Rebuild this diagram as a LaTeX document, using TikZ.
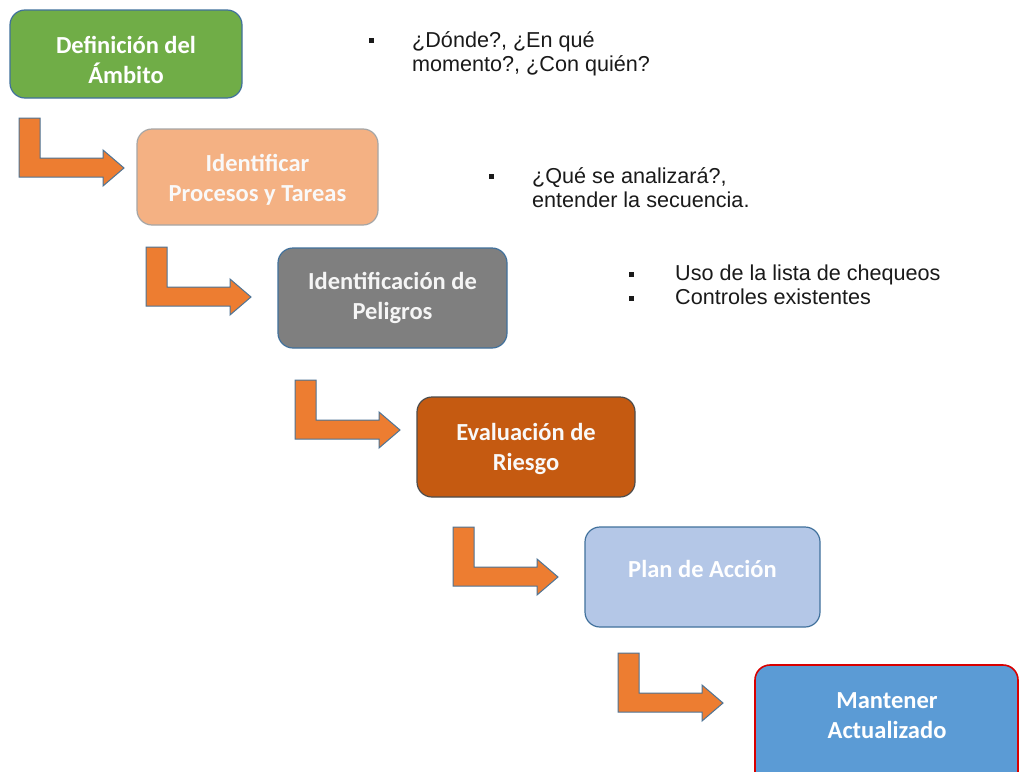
\documentclass[tikz,border=0pt]{standalone}
\usepackage{fontspec}
\setmainfont{Liberation Sans}
\newfontfamily\boxfont{Carlito}
\definecolor{cgreen}{HTML}{70AD47}
\definecolor{cpeach}{HTML}{F4B183}
\definecolor{cgrey}{HTML}{7F7F7F}
\definecolor{cbrown}{HTML}{C55A11}
\definecolor{clblue}{HTML}{B4C7E7}
\definecolor{cblue}{HTML}{5B9BD5}
\definecolor{cborder}{HTML}{41719C}
\definecolor{corange}{HTML}{ED7D31}
\definecolor{ctext}{HTML}{1A1A1A}
\tikzset{
  stagebox/.style={rectangle, rounded corners=15pt, line width=1.2pt, draw=cborder, inner sep=0pt},
  stagetext/.style={text=white, font=\boxfont\bfseries\fontsize{24.5}{30}\selectfont, align=center, inner sep=0pt},
  sidetext/.style={text=ctext, font=\fontsize{21.6}{24.5}\selectfont, align=left, anchor=base west, inner sep=0pt},
  bulletsq/.style={fill=ctext, minimum width=5pt, minimum height=5pt, inner sep=0pt, anchor=center},
  bentarrow/.style={fill=corange, draw=cborder!80!gray, line width=1pt, line join=miter}
}
\newcommand{\bentarr}[1]{%
  \draw[bentarrow] (#1) -- ++(21,0) -- ++(0,40) -- ++(63,0) -- ++(0,-8)
    -- ++(21,18) -- ++(-21,18) -- ++(0,-9) -- ++(-84,0) -- cycle;}
\begin{document}
\begin{tikzpicture}[x=1pt,y=-1pt]
\useasboundingbox (0,0) rectangle (1019,771);
\clip (0,0) rectangle (1019,771);
\fill[white] (0,0) rectangle (1019,771);
% boxes
\node[stagebox, fill=cgreen, minimum width=232pt, minimum height=88pt] (b1) at (126,54) {};
\node[stagebox, fill=cpeach, draw=gray!70, minimum width=241pt, minimum height=96pt] (b2) at (257.5,177) {};
\node[stagebox, fill=cgrey, minimum width=229pt, minimum height=100pt] (b3) at (392.5,298) {};
\node[stagebox, fill=cbrown, draw=gray!60!black, minimum width=218pt, minimum height=100pt] (b4) at (526,447) {};
\node[stagebox, fill=clblue, minimum width=235pt, minimum height=100pt] (b5) at (702.5,577) {};
\node[stagebox, fill=cblue, draw=red!85!black, line width=1.6pt, minimum width=263pt, minimum height=140pt] (b6) at (886.5,735) {};
% box texts
\node[stagetext] (t1) at (126,60) {Definición del\\Ámbito};
\node[stagetext, text=white!95!gray] (t2) at (257.5,180) {Identificar\\Procesos y Tareas};
\node[stagetext, text=white!92!gray] (t3) at (392.5,298) {Identificación de\\Peligros};
\node[stagetext, text=white!95!gray] (t4) at (526,449) {Evaluación de\\Riesgo};
\node[stagetext] (t5) at (702.5,569) {Plan de Acción};
\node[stagetext] (t6) at (887,716) {Mantener\\Actualizado};
% arrows
\coordinate (a1) at (19,118);
\coordinate (a2) at (146,247);
\coordinate (a3) at (295,380);
\coordinate (a4) at (453,527);
\coordinate (a5) at (618,653);
\bentarr{a1}
\bentarr{a2}
\bentarr{a3}
\bentarr{a4}
\bentarr{a5}
% side notes
\node[bulletsq] (q1) at (371,40) {};
\node[sidetext] (s1) at (412,71.5) {¿Dónde?, ¿En qué\\momento?, ¿Con quién?};
\node[bulletsq] (q2) at (491,176) {};
\node[sidetext] (s2) at (532,207.5) {¿Qué se analizará?,\\entender la secuencia.};
\node[bulletsq] (q3) at (631,274) {};
\node[bulletsq] (q4) at (631,298) {};
\node[sidetext] (s3) at (675,304.5) {Uso de la lista de chequeos\\Controles existentes};
\end{tikzpicture}
\end{document}
